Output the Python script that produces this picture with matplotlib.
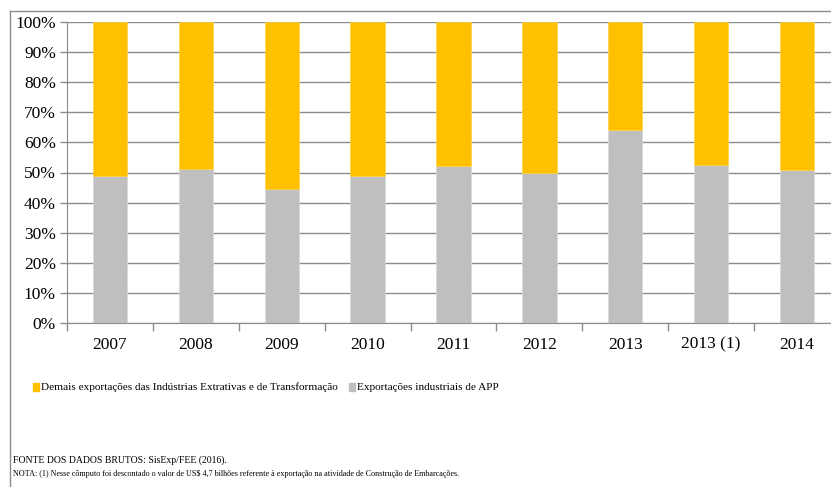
import matplotlib.pyplot as plt
from matplotlib.lines import Line2D
from matplotlib.ticker import PercentFormatter

plt.rcParams['font.family'] = ['Liberation Serif', 'DejaVu Serif']

# shares (%)
anos = ["2007", "2008", "2009", "2010", "2011", "2012", "2013", "2013 (1)", "2014"]
app = [48.7, 51.0, 44.6, 49.0, 52.3, 49.8, 64.1, 52.6, 50.8]
demais = [100 - v for v in app]

cor_app = "#BFBFBF"
cor_demais = "#FFC000"

fig = plt.figure(figsize=(8.31, 4.87), dpi=100)
W, H = 831, 487

# frame around the chart (cut at right and bottom)
fig.add_artist(Line2D([10 / W, 10 / W], [0, 1 - 11 / H], color="#8c8c8c", lw=1))
fig.add_artist(Line2D([10 / W, 1], [1 - 11 / H, 1 - 11 / H], color="#8c8c8c", lw=1))

ax = fig.add_axes([67 / W, 1 - 323 / H, (840 - 67) / W, (323 - 22) / H])
x = list(range(len(anos)))
ax.bar(x, app, width=0.4, color=cor_app, edgecolor="#d9d9d9", lw=0.5, zorder=3)
ax.bar(x, demais, bottom=app, width=0.4, color=cor_demais, edgecolor="#ffd24d", lw=0.5, zorder=3)

ax.set_xlim(-0.5, len(anos) - 0.5)
ax.set_ylim(0, 100)
ax.set_yticks(range(0, 101, 10))
ax.yaxis.set_major_formatter(PercentFormatter(decimals=0))
ax.yaxis.grid(True, color="#8c8c8c", lw=1, zorder=0)

ax.set_xticks(x)
ax.set_xticklabels(anos)
ax.set_xticks([i - 0.5 for i in range(len(anos) + 1)], minor=True)
ax.tick_params(axis="x", which="major", length=0, pad=10, labelsize=12.5)
ax.tick_params(axis="x", which="minor", length=6, color="#8c8c8c", width=1)
ax.tick_params(axis="y", length=5, color="#8c8c8c", width=1, labelsize=12.5, pad=3)

for s in ["top", "right"]:
    ax.spines[s].set_visible(False)
ax.spines["left"].set_color("#8c8c8c")
ax.spines["bottom"].set_color("#8c8c8c")

# legend
fig.patches.append(plt.Rectangle((33 / W, 1 - 391 / H), 6 / W, 8 / H, color=cor_demais, transform=fig.transFigure))
fig.text(41 / W, 1 - 387 / H, "Demais exportações das Indústrias Extrativas e de Transformação",
         fontsize=8.1, va="center", ha="left")
fig.patches.append(plt.Rectangle((349 / W, 1 - 391 / H), 6 / W, 8 / H, color=cor_app, transform=fig.transFigure))
fig.text(357 / W, 1 - 387 / H, "Exportações industriais de APP", fontsize=8.1, va="center", ha="left")

fig.text(13 / W, 1 - 460 / H, "FONTE DOS DADOS BRUTOS: SisExp/FEE (2016).", fontsize=7, va="center")
fig.text(13 / W, 1 - 474 / H,
         "NOTA: (1) Nesse cômputo foi descontado o valor de US$ 4,7 bilhões referente à exportação na atividade de Construção de Embarcações.",
         fontsize=5.9, va="center")

fig.savefig("out.png", dpi=100)
